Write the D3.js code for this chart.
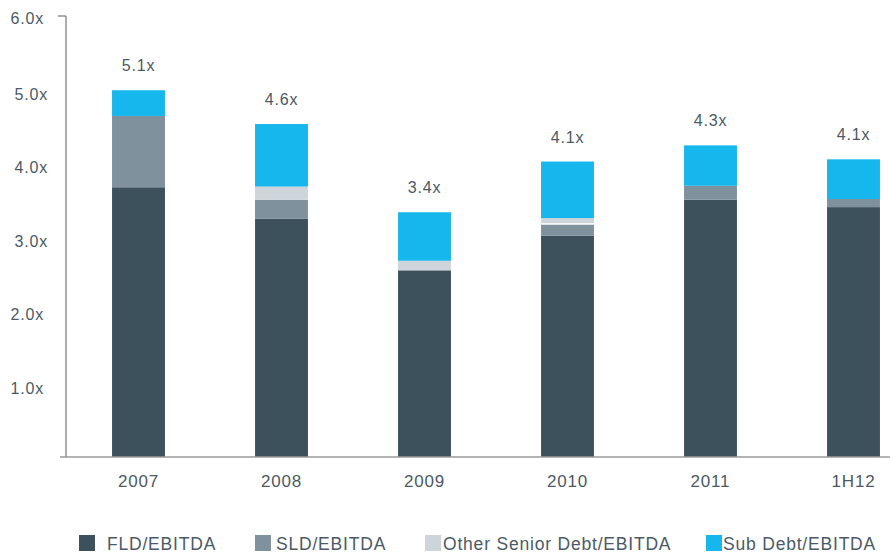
<!DOCTYPE html>
<html><head><meta charset="utf-8">
<script src="https://cdn.jsdelivr.net/npm/d3@7"></script>
<style>body{margin:0;background:#fff;}svg{display:block;font-family:"Liberation Sans",Arial,sans-serif;}</style>
</head><body><svg id="c" width="890" height="553"></svg>
<script>
const categories = ["2007","2008","2009","2010","2011","1H12"];
const seriesNames = ["FLD/EBITDA","SLD/EBITDA","Other Senior Debt/EBITDA","Sub Debt/EBITDA"];
const fld   = [3.67, 3.24, 2.54, 3.01, 3.50, 3.40];
const sld   = [0.97, 0.26, 0.00, 0.16, 0.19, 0.11];
const other = [0.00, 0.18, 0.13, 0.08, 0.00, 0.00];
const sub   = [0.35, 0.85, 0.66, 0.77, 0.55, 0.54];
const totalLabels = ["5.1x","4.6x","3.4x","4.1x","4.3x","4.1x"];
const yTicks = [1,2,3,4,5,6];
const yTickLabels = ["1.0x","2.0x","3.0x","4.0x","5.0x","6.0x"];
const colors = ["#3d515c","#7f919c","#cdd5db","#15b7ec"];
const textColor = "#4b5a66";

const svg = d3.select("#c");
const x = d3.scaleBand().domain(categories).range([67, 925]).paddingInner(0.63).paddingOuter(0.315);
const y = d3.scaleLinear().domain([0, 6]).range([457, 16]);

const rows = categories.map((c, i) => ({cat: c, s0: fld[i], s1: sld[i], s2: other[i], s3: sub[i]}));
const stack = d3.stack().keys(["s0","s1","s2","s3"]);
const layers = stack(rows);

svg.append("g").selectAll("g").data(layers).join("g")
  .attr("fill", (d, i) => colors[i])
  .selectAll("rect").data(d => d).join("rect")
  .attr("x", d => x(d.data.cat))
  .attr("width", x.bandwidth())
  .attr("y", d => y(d[1]))
  .attr("height", d => Math.max(0, y(d[0]) - y(d[1])));

// thin white separator in 2010 between SLD and other senior
svg.append("line")
  .attr("x1", x("2010")).attr("x2", x("2010") + x.bandwidth())
  .attr("y1", y(fld[3] + sld[3]) ).attr("y2", y(fld[3] + sld[3]))
  .attr("stroke", "#fff").attr("stroke-width", 1.3);

// total labels
svg.append("g").selectAll("text").data(rows).join("text")
  .attr("x", d => x(d.cat) + x.bandwidth() / 2)
  .attr("y", d => y(d.s0 + d.s1 + d.s2 + d.s3) - 19)
  .attr("text-anchor", "middle")
  .attr("fill", textColor).attr("font-size", 16).attr("letter-spacing", 0.8)
  .text((d, i) => totalLabels[i]);

// y axis line
svg.append("line").attr("x1", 66).attr("x2", 66).attr("y1", y(6)).attr("y2", y(0))
  .attr("stroke", "#6a7984").attr("stroke-width", 1.2);
svg.append("line").attr("x1", 58).attr("x2", 66).attr("y1", y(6)).attr("y2", y(6))
  .attr("stroke", "#6a7984").attr("stroke-width", 1.2);
// baseline
svg.append("line").attr("x1", 60).attr("x2", 890).attr("y1", y(0)).attr("y2", y(0))
  .attr("stroke", "#9a9a9a").attr("stroke-width", 1.5);

// y tick labels
svg.append("g").selectAll("text").data(yTicks).join("text")
  .attr("x", d => (d >= 3 && d <= 5) ? 48 : 44)
  .attr("y", d => y(d) + 8 + (d < 6 ? 2 : 0))
  .attr("text-anchor", "end")
  .attr("fill", textColor).attr("font-size", 16).attr("letter-spacing", 0.8)
  .text((d, i) => yTickLabels[i]);

// x labels
svg.append("g").selectAll("text").data(categories).join("text")
  .attr("x", d => x(d) + x.bandwidth() / 2)
  .attr("y", 487)
  .attr("text-anchor", "middle")
  .attr("fill", textColor).attr("font-size", 17).attr("letter-spacing", 0.8)
  .text(d => d);

// legend
const legendX = [79, 255, 425, 706];
const legendTextX = [107, 276, 443, 723];
const lg = svg.append("g");
seriesNames.forEach((n, i) => {
  lg.append("rect").attr("x", legendX[i]).attr("y", 535).attr("width", 16).attr("height", 16).attr("fill", colors[i]);
  lg.append("text").attr("x", legendTextX[i]).attr("y", 550).attr("fill", textColor)
    .attr("font-size", 17.5).attr("letter-spacing", 0.8).text(n);
});
</script></body></html>
